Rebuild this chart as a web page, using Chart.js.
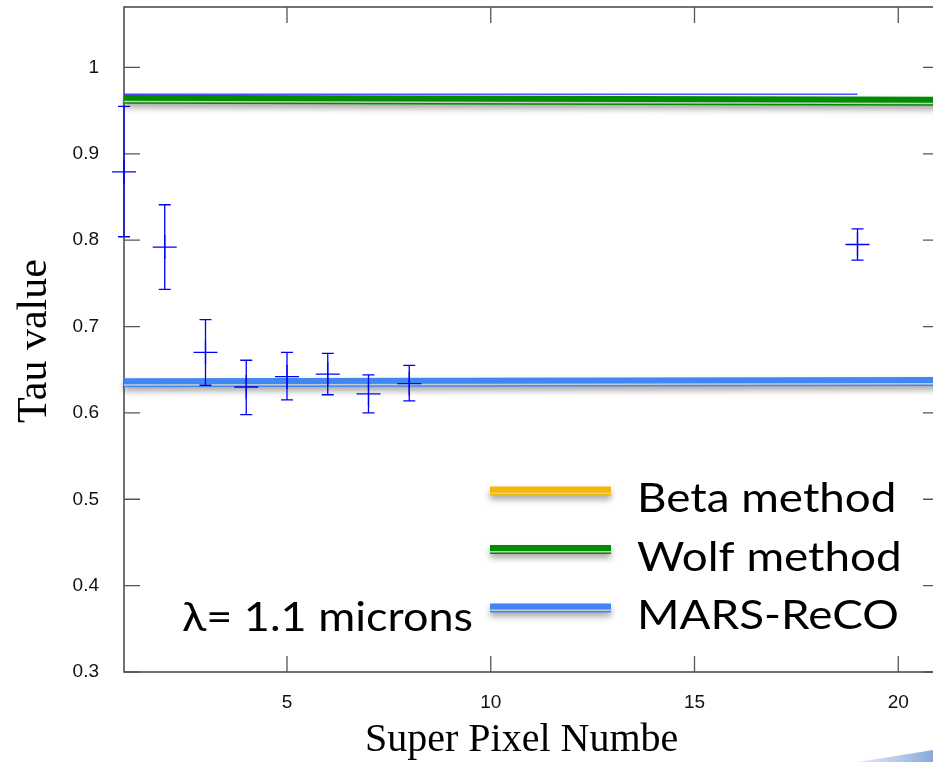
<!DOCTYPE html>
<html>
<head>
<meta charset="utf-8">
<title>Tau value per super pixel</title>
<script src="https://cdn.jsdelivr.net/npm/chart.js@4.4.1/dist/chart.umd.min.js"></script>
<style>
  html, body { margin: 0; padding: 0; background: #fff; overflow: hidden; }
  #wrap { position: relative; width: 960px; height: 762px; }
</style>
</head>
<body>
<div id="wrap"><canvas id="tauChart"></canvas></div>
<script>
// measured tau per super pixel, with both ends of each error bar
const superPixels = [1, 2, 3, 4, 5, 6, 7, 8, 19];
const tauValues = [0.879, 0.792, 0.670, 0.630, 0.642, 0.645, 0.622, 0.634, 0.795];
const tauHigh = [0.955, 0.841, 0.708, 0.661, 0.670, 0.669, 0.644, 0.655, 0.813];
const tauLow = [0.804, 0.743, 0.632, 0.598, 0.615, 0.621, 0.600, 0.614, 0.777];

// thin reference level across the measured range
const refX = [1, 19];
const refTau = [0.969, 0.969];

// method levels, start and end
const methodX = [1, 21];
const betaTau = [];
const wolfTau = [0.9633, 0.9610];
const marsTau = [0.6350, 0.6365];

const methodNames = ["Beta method", "Wolf method", "MARS-ReCO"];
const methodColors = ["#f4b800", "#008c00", "#4186f5"];

const xTicks = [5, 10, 15, 20];
const yTicks = [0.3, 0.4, 0.5, 0.6, 0.7, 0.8, 0.9, 1];

const xTitle = "Super Pixel Number";
const yTitle = "Tau value";
const note = "\u03bb= 1.1 microns";

const pts = (xs, ys) => ys.map((v, i) => ({ x: xs[i], y: v }));

function bandLine(ctx, x0, y0, x1, y1, color) {
  // wide stroke with a soft drop shadow, then a pale stripe near its lower edge
  ctx.save();
  ctx.shadowColor = "rgba(0,0,0,0.35)";
  ctx.shadowBlur = 6;
  ctx.shadowOffsetY = 4;
  ctx.strokeStyle = color;
  ctx.lineWidth = 9;
  ctx.beginPath();
  ctx.moveTo(x0, y0);
  ctx.lineTo(x1, y1);
  ctx.stroke();
  ctx.restore();
  ctx.save();
  ctx.strokeStyle = "rgba(205,205,205,0.95)";
  ctx.lineWidth = 1.5;
  ctx.beginPath();
  ctx.moveTo(x0, y0 + 2.3);
  ctx.lineTo(x1, y1 + 2.3);
  ctx.stroke();
  ctx.restore();
}

// slide text is a little wider than the plain font
function wideText(ctx, text, x, y, font, stretch) {
  ctx.save();
  ctx.font = font;
  ctx.fillStyle = "#000";
  ctx.translate(x, y);
  ctx.scale(stretch, 1);
  ctx.fillText(text, 0, 0);
  ctx.restore();
}

const framePlugin = {
  id: "frame",
  beforeDatasetsDraw(chart) {
    const { ctx, chartArea: a, scales: { x, y } } = chart;
    ctx.save();
    ctx.strokeStyle = "#444";
    ctx.lineWidth = 1.5;
    ctx.strokeRect(a.left, a.top, a.right - a.left, a.bottom - a.top);
    ctx.strokeStyle = "#555";
    ctx.lineWidth = 1.3;
    ctx.beginPath();
    xTicks.forEach(v => {
      const px = x.getPixelForValue(v);
      ctx.moveTo(px, a.bottom); ctx.lineTo(px, a.bottom - 16);
      ctx.moveTo(px, a.top); ctx.lineTo(px, a.top + 16);
    });
    yTicks.forEach(v => {
      const py = y.getPixelForValue(v);
      ctx.moveTo(a.left, py); ctx.lineTo(a.left + 16, py);
      ctx.moveTo(a.right, py); ctx.lineTo(a.right - 16, py);
    });
    ctx.stroke();
    ctx.restore();
  }
};

// method lines are drawn as shadowed double bands
const bandPlugin = {
  id: "bands",
  afterDatasetDraw(chart, args) {
    const ds = chart.data.datasets[args.index];
    if (!ds.band || args.meta.data.length < 2) return;
    const p = args.meta.data;
    bandLine(chart.ctx, p[0].x, p[0].y, p[p.length - 1].x, p[p.length - 1].y, ds.borderColor);
  }
};

const errorBarPlugin = {
  id: "errorBars",
  afterDatasetsDraw(chart) {
    const { ctx, scales: { x, y } } = chart;
    chart.data.datasets.forEach(ds => {
      if (!ds.errHigh) return;
      ctx.save();
      ctx.strokeStyle = ds.borderColor;
      ctx.lineWidth = 1.3;
      ctx.beginPath();
      ds.data.forEach((d, i) => {
        const px = x.getPixelForValue(d.x);
        const hi = y.getPixelForValue(ds.errHigh[i]);
        const lo = y.getPixelForValue(ds.errLow[i]);
        ctx.moveTo(px, hi); ctx.lineTo(px, lo);
        ctx.moveTo(px - 6, hi); ctx.lineTo(px + 6, hi);
        ctx.moveTo(px - 6, lo); ctx.lineTo(px + 6, lo);
      });
      ctx.stroke();
      ctx.restore();
    });
  }
};

const labelsPlugin = {
  id: "labels",
  afterDraw(chart) {
    const ctx = chart.ctx;

    // legend for the three methods, in name order
    methodNames.forEach((name, i) => {
      const ds = chart.data.datasets.find(d => d.label === name);
      const base = 512 + i * 58.5;
      bandLine(ctx, 490, base - 21, 611, base - 21, ds.borderColor);
      wideText(ctx, name, 637, base, "40px Lato", 1.145);
    });

    wideText(ctx, note, 182, 631, "40px Lato", 1.125);

    // axis titles
    ctx.save();
    ctx.fillStyle = "#000";
    ctx.font = '42px "Liberation Serif"';
    ctx.textAlign = "center";
    ctx.textBaseline = "middle";
    ctx.translate(35, 341);
    ctx.rotate(-Math.PI / 2);
    ctx.fillText(yTitle, 0, 0);
    ctx.restore();

    ctx.save();
    ctx.beginPath();
    ctx.rect(0, 700, 678, 62);
    ctx.clip();
    ctx.fillStyle = "#000";
    ctx.font = '40px "Liberation Serif"';
    ctx.fillText(xTitle, 365, 751);
    ctx.restore();

    // slide swoosh in the lower right corner
    ctx.save();
    const g = ctx.createLinearGradient(858, 0, 933, 0);
    g.addColorStop(0, "rgba(170,195,230,0.4)");
    g.addColorStop(1, "rgba(120,160,215,0.9)");
    ctx.fillStyle = g;
    ctx.beginPath();
    ctx.moveTo(858, 762);
    ctx.lineTo(933, 750);
    ctx.lineTo(933, 762);
    ctx.closePath();
    ctx.fill();
    ctx.restore();
  }
};

const tickFont = { family: "Liberation Sans", size: 19 };

new Chart(document.getElementById("tauChart"), {
  type: "scatter",
  data: {
    datasets: [
      {
        label: "Tau",
        data: pts(superPixels, tauValues),
        errHigh: tauHigh,
        errLow: tauLow,
        borderColor: "#0000ff",
        backgroundColor: "#0000ff",
        pointStyle: "cross",
        pointRadius: 12,
        borderWidth: 1.3,
        clip: false
      },
      {
        label: "level",
        data: pts(refX, refTau),
        showLine: true,
        borderColor: "rgba(50,50,255,0.85)",
        borderWidth: 1.5,
        pointRadius: 0
      },
      {
        label: methodNames[1],
        data: pts(methodX, wolfTau),
        showLine: true,
        borderColor: methodColors[1],
        borderWidth: 0,
        pointRadius: 0,
        band: true
      },
      {
        label: methodNames[0],
        data: pts(methodX, betaTau),
        showLine: true,
        borderColor: methodColors[0],
        borderWidth: 0,
        pointRadius: 0,
        band: true
      },
      {
        label: methodNames[2],
        data: pts(methodX, marsTau),
        showLine: true,
        borderColor: methodColors[2],
        borderWidth: 0,
        pointRadius: 0,
        band: true
      }
    ]
  },
  options: {
    responsive: true,
    maintainAspectRatio: false,
    animation: false,
    layout: { autoPadding: false, padding: { top: 7, right: 21, bottom: 0, left: 0 } },
    plugins: { legend: { display: false }, tooltip: { enabled: false } },
    scales: {
      x: {
        type: "linear",
        min: 1,
        max: 21,
        afterBuildTicks: s => { s.ticks = xTicks.map(v => ({ value: v })); },
        afterFit: s => { s.height = 90; s.paddingLeft = 0; s.paddingRight = 0; },
        grid: { display: false },
        border: { display: false },
        ticks: { font: tickFont, color: "#111", padding: 11, maxRotation: 0, callback: v => String(v) }
      },
      y: {
        type: "linear",
        min: 0.3,
        max: 1.07,
        afterBuildTicks: s => { s.ticks = yTicks.map(v => ({ value: v })); },
        afterFit: s => { s.width = 124; s.paddingTop = 0; s.paddingBottom = 0; },
        grid: { display: false },
        border: { display: false },
        ticks: { font: tickFont, color: "#111", padding: 17, callback: v => String(v) }
      }
    }
  },
  plugins: [framePlugin, bandPlugin, errorBarPlugin, labelsPlugin]
});
</script>
</body>
</html>
